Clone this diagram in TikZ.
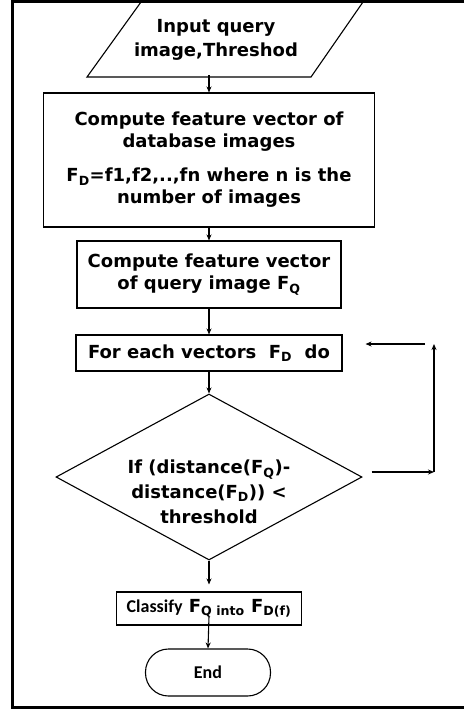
\documentclass[tikz,border=0pt]{standalone}
\usepackage{fontspec}
\setmainfont{DejaVu Sans}
\newfontfamily\calfont{Carlito}
\usetikzlibrary{shapes.geometric,arrows.meta}

\begin{document}
\begin{tikzpicture}[x=1pt,y=-1pt,
    box/.style={draw,line width=1.1pt,align=center,inner sep=0pt,
        font=\bfseries\fontsize{18}{22}\selectfont},
    arr/.style={-{Stealth[length=6pt,width=5pt]},line width=1.1pt}]
    \useasboundingbox (0,0) rectangle (464,713);

    % Rahmen (rechts offen)
    \draw[line width=3pt] (464,1.5) -- (12,1.5) -- (12,707) -- (464,707);

    % Eingabe (Parallelogramm)
    \node[align=center,font=\bfseries\fontsize{18}{24}\selectfont] (inp) at (216,40)
        {Input query\\image,Threshod};
    \draw[line width=1.1pt] (141,2) -- (363,2) -- (311,77) -- (87,77) -- cycle;
    \coordinate (inpb) at (209,75);

    % Merkmalsvektoren
    \node[box,minimum width=331pt,minimum height=134pt] (db) at (209,160)
        {Compute feature vector of\\database images\\[12pt]
         F\textsubscript{D}=f1,f2,..,fn where n is the\\number of images};
    \node[box,minimum width=264pt,minimum height=67pt] (qv) at (209,274.5)
        {Compute feature vector\\of query image F\textsubscript{Q}};
    \node[box,minimum width=266pt,minimum height=36pt] (loop) at (209,353)
        {For each vectors\ \ F\textsubscript{D}\ \ do};

    % Entscheidung
    \node[box,shape=diamond,minimum width=306pt,minimum height=166pt] (dec) at (209,477) {};
    \node[align=center,font=\bfseries\fontsize{18}{25}\selectfont] (dectxt)
        at ([yshift=-15pt]dec.center)
        {If (distance(F\textsubscript{Q})-\\distance(F\textsubscript{D})) <\\threshold};

    % Klassifizieren und Ende
    \node[box,minimum width=185pt,minimum height=33pt] (cls) at (209,608.5)
        {{\calfont Classify} F\textsubscript{Q into} F\textsubscript{D(f)}};
    \node[box,rounded corners=23pt,minimum width=125pt,minimum height=47pt,
        font=\calfont\bfseries\fontsize{18}{20}\selectfont] (fin) at (208,672.5) {End};

    % Rueckfuehrung
    \coordinate (rt) at (434,472);
    \coordinate (up) at (434,344);

    % Pfeile
    \draw[arr] (inpb) -- (db.north);
    \draw[arr] (db) -- (qv);
    \draw[arr] (qv) -- (loop);
    \draw[arr] (loop) -- (dec);
    \draw[arr] (dec.south) -- ([yshift=7pt]cls.north);
    \draw[arr] ([yshift=-8pt]cls.center) -- (fin.north);
    \draw[arr] ([xshift=9pt]dec.east |- rt) -- (rt);
    \draw[arr] (rt) -- (up);
    \draw[arr] ([xshift=-9pt]up) -- ([xshift=23pt]loop.east |- up);

\end{tikzpicture}
\end{document}
